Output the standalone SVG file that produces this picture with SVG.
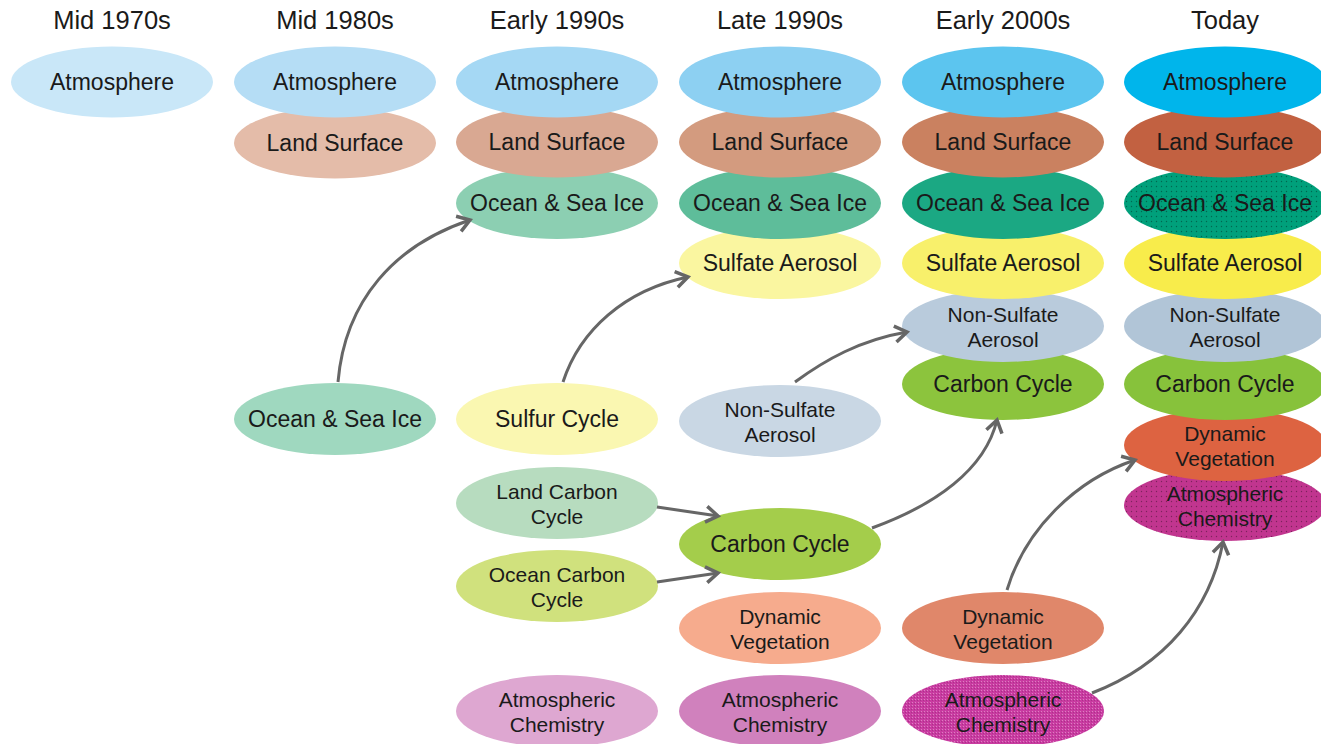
<svg xmlns="http://www.w3.org/2000/svg" width="1321" height="744" viewBox="0 0 1321 744">
<defs>
<style>
.hd{font-family:"Liberation Sans",Arial,sans-serif;font-size:25.5px;fill:#1a1a1a;text-anchor:middle}
.t{font-family:"Liberation Sans",Arial,sans-serif;font-size:23px;fill:#1a1a1a;text-anchor:middle}
.t2{font-family:"Liberation Sans",Arial,sans-serif;font-size:21px;fill:#1a1a1a;text-anchor:middle}
.c{fill:none;stroke:#666;stroke-width:3;marker-end:url(#ah)}
</style>
<marker id="ah" markerUnits="userSpaceOnUse" markerWidth="24" markerHeight="24" viewBox="0 0 24 24" refX="20" refY="12" orient="auto">
<path d="M8,4 L20,12 L8,20" fill="none" stroke="#666" stroke-width="3.5" stroke-linejoin="miter"/>
</marker>
<pattern id="dots" width="5" height="5" patternUnits="userSpaceOnUse">
<circle cx="1.5" cy="1.5" r="0.7" fill="#000" fill-opacity="0.35"/>
</pattern>
<pattern id="tex" width="3" height="3" patternUnits="userSpaceOnUse">
<rect x="0" y="0" width="1" height="1" fill="#fff" fill-opacity="0.35"/>
<rect x="2" y="1" width="1" height="1" fill="#000" fill-opacity="0.15"/>
</pattern>
</defs>
<rect width="1321" height="744" fill="#fff"/>

<g id="headers">
<text class="hd" x="112" y="29">Mid 1970s</text>
<text class="hd" x="335" y="29">Mid 1980s</text>
<text class="hd" x="557" y="29">Early 1990s</text>
<text class="hd" x="780" y="29">Late 1990s</text>
<text class="hd" x="1003" y="29">Early 2000s</text>
<text class="hd" x="1225" y="29">Today</text>
</g>

<!-- Mid 1970s -->
<g id="n70-atm"><ellipse cx="112" cy="82" rx="101" ry="35.5" fill="#c9e7f8"/><text class="t" x="112" y="90">Atmosphere</text></g>

<!-- Mid 1980s -->
<g id="n80-ocean"><ellipse cx="335" cy="419" rx="101" ry="36" fill="#9fd8bf"/><text class="t" x="335" y="427">Ocean &amp; Sea Ice</text></g>
<g id="n80-land"><ellipse cx="335" cy="143" rx="101" ry="35.5" fill="#e4bca9"/><text class="t" x="335" y="151">Land Surface</text></g>
<g id="n80-atm"><ellipse cx="335" cy="82" rx="101" ry="35.5" fill="#b5ddf5"/><text class="t" x="335" y="90">Atmosphere</text></g>

<!-- Early 1990s -->
<g id="n90e-atmchem"><ellipse cx="557" cy="711" rx="101" ry="36" fill="#dea7d1"/><text class="t2" x="557" y="707">Atmospheric<tspan x="557" dy="24.5">Chemistry</tspan></text></g>
<g id="n90e-oceancarbon"><ellipse cx="557" cy="586" rx="101" ry="36" fill="#d0e17d"/><text class="t2" x="557" y="582">Ocean Carbon<tspan x="557" dy="24.5">Cycle</tspan></text></g>
<g id="n90e-landcarbon"><ellipse cx="557" cy="503" rx="101" ry="36" fill="#b7dcbf"/><text class="t2" x="557" y="499">Land Carbon<tspan x="557" dy="24.5">Cycle</tspan></text></g>
<g id="n90e-sulfur"><ellipse cx="557" cy="419" rx="101" ry="36" fill="#faf7b1"/><text class="t" x="557" y="427">Sulfur Cycle</text></g>
<g id="n90e-ocean"><ellipse cx="557" cy="203" rx="101" ry="36" fill="#8ccfb2"/><text class="t" x="557" y="211">Ocean &amp; Sea Ice</text></g>
<g id="n90e-land"><ellipse cx="557" cy="142" rx="101" ry="35.5" fill="#d9a892"/><text class="t" x="557" y="150">Land Surface</text></g>
<g id="n90e-atm"><ellipse cx="557" cy="82" rx="101" ry="35.5" fill="#a5d8f4"/><text class="t" x="557" y="90">Atmosphere</text></g>

<!-- Late 1990s -->
<g id="n90l-atmchem"><ellipse cx="780" cy="711" rx="101" ry="36" fill="#d081bd"/><text class="t2" x="780" y="707">Atmospheric<tspan x="780" dy="24.5">Chemistry</tspan></text></g>
<g id="n90l-dynveg"><ellipse cx="780" cy="628" rx="101" ry="36" fill="#f6ab8d"/><text class="t2" x="780" y="624">Dynamic<tspan x="780" dy="24.5">Vegetation</tspan></text></g>
<g id="n90l-carbon"><ellipse cx="780" cy="544" rx="101" ry="36" fill="#a4cd4b"/><text class="t" x="780" y="552">Carbon Cycle</text></g>
<g id="n90l-nonsulf"><ellipse cx="780" cy="421" rx="101" ry="36" fill="#c9d7e4"/><text class="t2" x="780" y="417">Non-Sulfate<tspan x="780" dy="24.5">Aerosol</tspan></text></g>
<g id="n90l-sulfate"><ellipse cx="780" cy="263" rx="101" ry="36" fill="#faf6a0"/><text class="t" x="780" y="271">Sulfate Aerosol</text></g>
<g id="n90l-ocean"><ellipse cx="780" cy="203" rx="101" ry="36" fill="#5ebd9a"/><text class="t" x="780" y="211">Ocean &amp; Sea Ice</text></g>
<g id="n90l-land"><ellipse cx="780" cy="142" rx="101" ry="35.5" fill="#d39b7f"/><text class="t" x="780" y="150">Land Surface</text></g>
<g id="n90l-atm"><ellipse cx="780" cy="82" rx="101" ry="35.5" fill="#8dd0f2"/><text class="t" x="780" y="90">Atmosphere</text></g>

<!-- Early 2000s -->
<g id="n00-atmchem"><ellipse cx="1003" cy="711" rx="101" ry="36" fill="#c93ba1"/><ellipse cx="1003" cy="711" rx="101" ry="36" fill="url(#tex)"/><text class="t2" x="1003" y="707">Atmospheric<tspan x="1003" dy="24.5">Chemistry</tspan></text></g>
<g id="n00-dynveg"><ellipse cx="1003" cy="628" rx="101" ry="36" fill="#e0876a"/><text class="t2" x="1003" y="624">Dynamic<tspan x="1003" dy="24.5">Vegetation</tspan></text></g>
<g id="n00-carbon"><ellipse cx="1003" cy="384" rx="101" ry="36" fill="#8cc43d"/><text class="t" x="1003" y="392">Carbon Cycle</text></g>
<g id="n00-nonsulf"><ellipse cx="1003" cy="326" rx="101" ry="36" fill="#b9cbdc"/><text class="t2" x="1003" y="322">Non-Sulfate<tspan x="1003" dy="24.5">Aerosol</tspan></text></g>
<g id="n00-sulfate"><ellipse cx="1003" cy="263" rx="101" ry="36" fill="#f8f06b"/><text class="t" x="1003" y="271">Sulfate Aerosol</text></g>
<g id="n00-ocean"><ellipse cx="1003" cy="203" rx="101" ry="36" fill="#1ba883"/><text class="t" x="1003" y="211">Ocean &amp; Sea Ice</text></g>
<g id="n00-land"><ellipse cx="1003" cy="142" rx="101" ry="35.5" fill="#ca8160"/><text class="t" x="1003" y="150">Land Surface</text></g>
<g id="n00-atm"><ellipse cx="1003" cy="82" rx="101" ry="35.5" fill="#5cc5ef"/><text class="t" x="1003" y="90">Atmosphere</text></g>

<!-- Today -->
<g id="nt-atmchem"><ellipse cx="1225" cy="505" rx="101" ry="36" fill="#c1358f"/><ellipse cx="1225" cy="505" rx="101" ry="36" fill="url(#dots)"/><text class="t2" x="1225" y="501">Atmospheric<tspan x="1225" dy="24.5">Chemistry</tspan></text></g>
<g id="nt-dynveg"><ellipse cx="1225" cy="445" rx="101" ry="36" fill="#dd6341"/><text class="t2" x="1225" y="441">Dynamic<tspan x="1225" dy="24.5">Vegetation</tspan></text></g>
<g id="nt-carbon"><ellipse cx="1225" cy="384" rx="101" ry="36" fill="#87c23b"/><text class="t" x="1225" y="392">Carbon Cycle</text></g>
<g id="nt-nonsulf"><ellipse cx="1225" cy="326" rx="101" ry="36" fill="#b1c5d7"/><text class="t2" x="1225" y="322">Non-Sulfate<tspan x="1225" dy="24.5">Aerosol</tspan></text></g>
<g id="nt-sulfate"><ellipse cx="1225" cy="263" rx="101" ry="36" fill="#f8ec4b"/><text class="t" x="1225" y="271">Sulfate Aerosol</text></g>
<g id="nt-ocean"><ellipse cx="1225" cy="203" rx="101" ry="36" fill="#00a07b"/><ellipse cx="1225" cy="203" rx="101" ry="36" fill="url(#dots)"/><text class="t" x="1225" y="211">Ocean &amp; Sea Ice</text></g>
<g id="nt-land"><ellipse cx="1225" cy="142" rx="101" ry="35.5" fill="#c26141"/><text class="t" x="1225" y="150">Land Surface</text></g>
<g id="nt-atm"><ellipse cx="1225" cy="82" rx="101" ry="35.5" fill="#00b5eb"/><text class="t" x="1225" y="90">Atmosphere</text></g>

<g id="connectors">
<path class="c" d="M338,382 C345,300 395,245 470,220"/>
<path class="c" d="M563,382 C580,330 625,290 688,277"/>
<path class="c" d="M795,382 C825,360 860,340 907,332"/>
<path class="c" d="M657,507 L718,516"/>
<path class="c" d="M657,582 L718,573"/>
<path class="c" d="M872,528 C935,505 985,470 997,420"/>
<path class="c" d="M1007,590 C1025,530 1075,480 1135,460"/>
<path class="c" d="M1092,693 C1165,665 1210,610 1223,542"/>
</g>
</svg>
